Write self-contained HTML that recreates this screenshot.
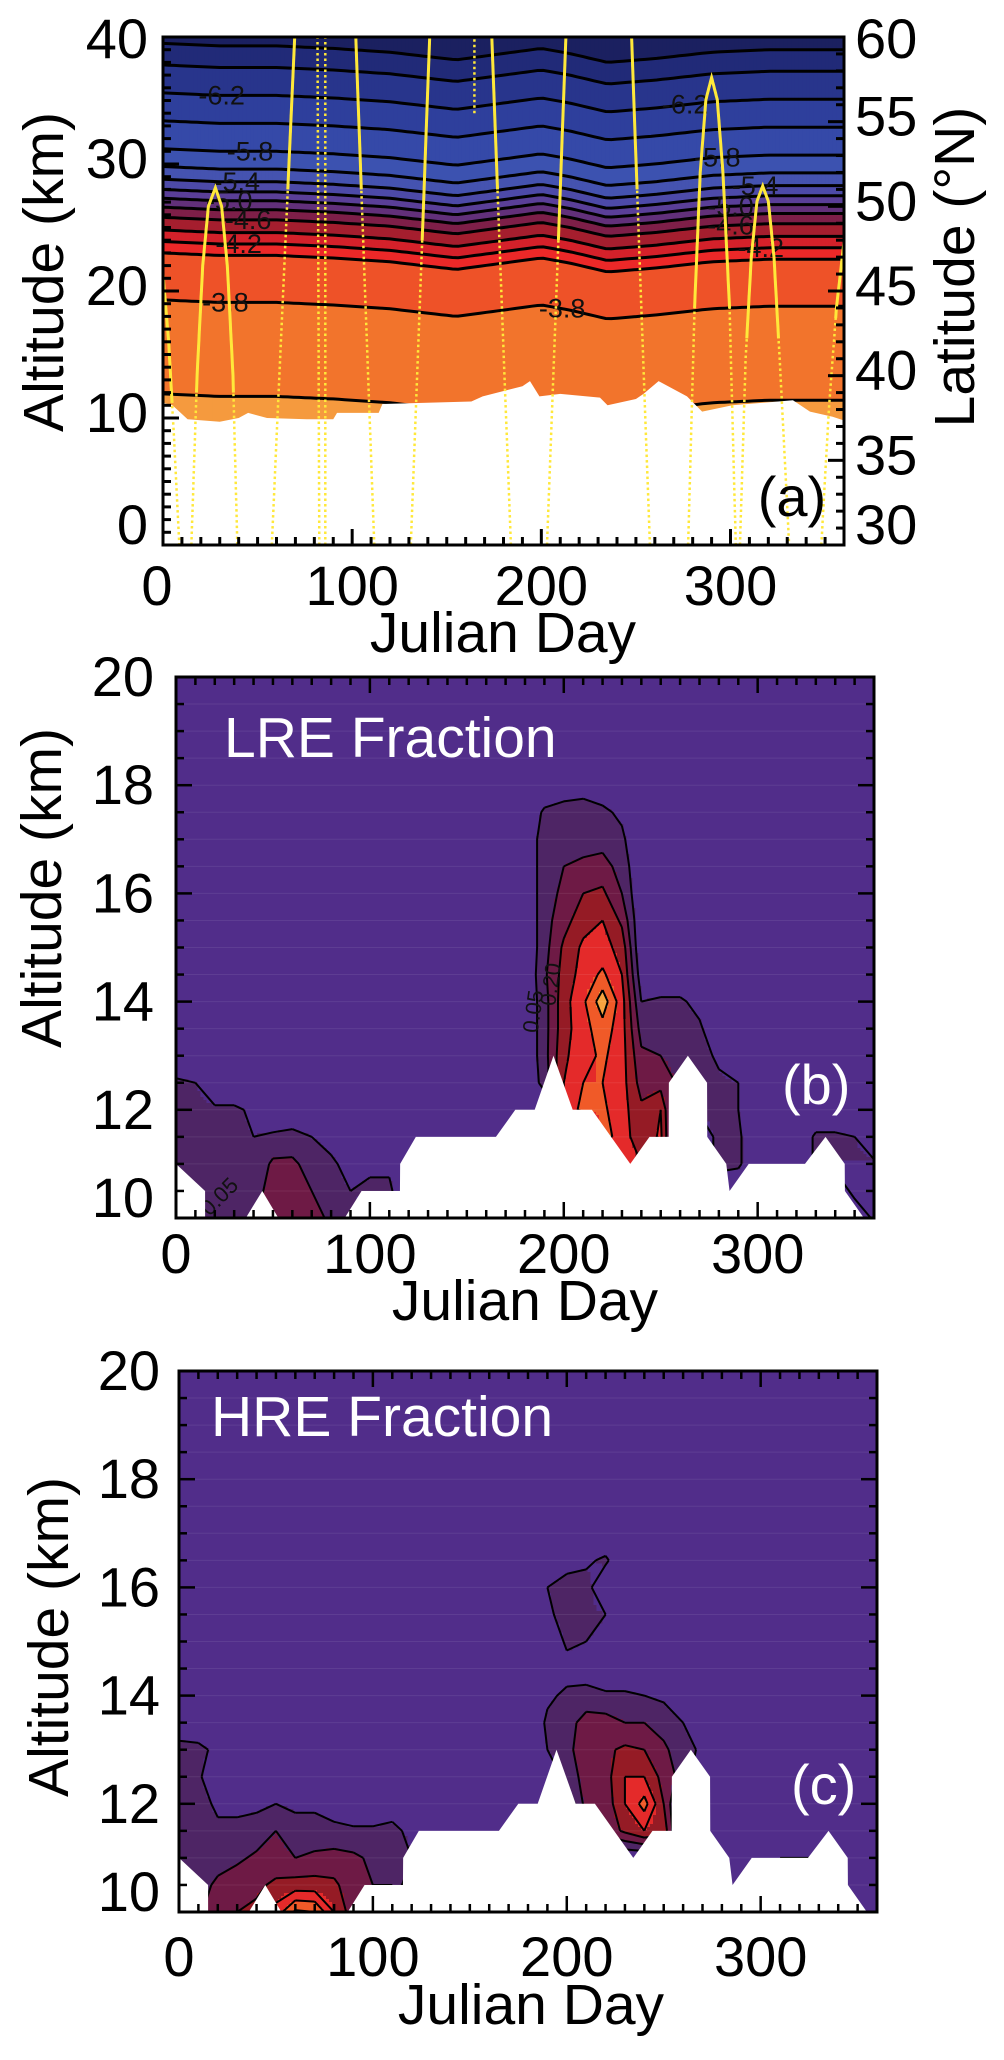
<!DOCTYPE html>
<html><head><meta charset="utf-8">
<style>
body{margin:0;background:#fff;width:1004px;height:2055px;overflow:hidden}
svg text{font-family:"Liberation Sans",Arial,sans-serif}
</style></head>
<body>
<svg id="fig" xmlns="http://www.w3.org/2000/svg" width="1004" height="2055" viewBox="0 0 1004 2055">
<defs>
<clipPath id="clipA"><rect x="163" y="37" width="681" height="508"/></clipPath>
<clipPath id="clipB"><rect x="176" y="677" width="698" height="541"/></clipPath>
<clipPath id="clipC"><rect x="179" y="1371" width="698" height="541"/></clipPath>
</defs>
<g id="panelA"></g>
<g id="panelB"></g>
<g id="panelC"></g>
</svg>
<script>
// ---------------- Panel (a) data ----------------
const aLevels=[-6.6,-6.4,-6.2,-6.0,-5.8,-5.6,-5.4,-5.2,-5.0,-4.8,-4.6,-4.4,-4.2,-4.0,-3.8,-3.6];
const aBandColors=['#1b2060','#212a78','#28358c','#2e3f9c','#3549a8','#3c52b0','#4553b0','#4d4aa8','#5a3f98','#62307a','#7e1f48','#a51e2e','#d4212a','#ec2828','#ee5228','#f2742c','#f59a3e'];
const profAlt=[0,10.5,11.7,15,19.1,21.5,22.8,23.7,24.6,25.6,26.4,27.1,27.8,28.6,29.6,31.0,33.2,35.4,37.6,39.3,42];
const profVal=[-3.45,-3.55,-3.6,-3.7,-3.8,-3.9,-4.0,-4.2,-4.4,-4.6,-4.8,-5.0,-5.2,-5.4,-5.6,-5.8,-6.0,-6.2,-6.4,-6.6,-6.9];
const liftDay=[0,30,60,90,120,155,165,200,215,235,260,290,320,360];
const liftKm=[0.2,0,0,-0.2,-0.5,-1.1,-0.9,-0.2,-0.6,-1.3,-1.0,-0.5,-0.3,-0.3];
const aFloorDay=[0,5,13,30,40,45,55,76,90,92,114,116,163,169,190,194,199,210,231,235,250,254,262,277,285,301,333,342,354,360];
const aFloorAlt=[11.2,11.0,9.9,9.7,10.0,10.4,10.0,9.9,9.9,10.4,10.4,11.1,11.3,11.7,12.5,12.9,11.7,11.9,11.6,11.0,11.5,11.9,12.9,11.7,10.5,11.0,11.4,10.5,10.1,9.8];
const aLabelLevels=[-6.2,-5.8,-5.4,-5.0,-4.6,-4.2,-3.8,-6.2,-5.8,-5.4,-5.0,-4.6,-4.2,-3.8];
const aLabelDays=[31,46,39,35,45,40,33,276,293,313,300,300,316,211];
const trackDays=[[0,3,6,8.6],[15,18,21,24,27.7,31,34,37,39.3],[57.5,69.6],[82.6,81.7],[85.8,85.8],[111.7,101.9],[131,141],[164.6,164.6],[183.9,173.8],[203,213],[257.4,247.7],[277.6,281,284,287,290,293,296,299.5,302.8],[305,308,311,314,317,320,323,326,331],[348,352,356,360]];
const trackLats=[[46,42,36,30],[30,40,46.5,50,51.1,50,46.5,40,30],[30,60],[30,60],[30,60],[30,60],[30,60],[55.5,60],[30,60],[30,60],[30,60],[30,44,52,56.3,57.6,56.3,52,44,30],[30,41,47,50.3,51.2,50.3,47,41,30],[30,38,44,47.9]];
const trackSolidAbove=[38,39,50,99,99,50,46,99,49,46,49,44,42,43];
const aAltTicks=[0,10,20,30,40];
const aLatTicks=[30,35,40,45,50,55,60];
const dayTicks=[0,100,200,300];

// ---------------- Panels (b),(c) data ----------------
const bcLevels=[0.05,0.10,0.15,0.20,0.25,0.30];
const bcColors=['#512d8a','#4e2565','#6e1a45','#951b25','#e42a2a','#f05a28','#f7a33f'];
const bcFloorDay=[0,15,15.01,36,44.5,52.8,87,95.7,115.5,115.6,123.7,165,175,185,194.7,204.6,214.5,234.3,244.2,254.1,254.2,264,273.9,274,283.8,285.5,295.4,324.4,335,344.9,345,354.8,360];
const bcFloorAlt=[11.0,10.5,10.0,10.0,10.5,10.0,10.0,10.5,10.5,11.0,11.5,11.5,12.0,12.0,13.0,12.0,12.0,11.0,11.5,11.5,12.5,13.0,12.5,11.5,11.0,10.5,11.0,11.0,11.5,11.0,10.5,10.0,9.9];
const bcAltTicks=[10,12,14,16,18,20];
// [day, altitude km, fraction]
const lreCells=[
[0,10,0.06],[0,10.5,0.07],[0,11,0.07],[0,11.5,0.07],[0,12,0.07],[0,12.5,0.06],
[10,10,0.07],[10,10.5,0.07],[10,11,0.07],[10,11.5,0.07],[10,12,0.07],[10,12.5,0.05],
[20,10,0.08],[20,10.5,0.07],[20,11,0.07],[20,11.5,0.06],[20,12,0.06],
[30,10,0.1],[30,10.5,0.08],[30,11,0.06],[30,11.5,0.06],[30,12,0.06],
[40,10,0.1],[40,10.5,0.08],[40,11,0.06],[40,11.5,0.05],[40,12,0.04],
[50,10,0.13],[50,10.5,0.12],[50,11,0.11],[50,11.5,0.06],
[60,10,0.14],[60,10.5,0.13],[60,11,0.11],[60,11.5,0.07],
[70,10,0.12],[70,10.5,0.1],[70,11,0.08],[70,11.5,0.05],
[80,10,0.09],[80,10.5,0.07],[80,11,0.06],[80,11.5,0.03],
[90,10,0.06],[90,10.5,0.05],[90,11,0.03],
[100,10.5,0.06],[100,11,0.04],[110,10.5,0.06],[110,11,0.04],
[190,12.5,0.07],[190,13,0.08],[190,13.5,0.08],[190,14,0.08],[190,14.5,0.09],[190,15,0.08],[190,15.5,0.08],[190,16,0.08],[190,16.5,0.08],[190,17,0.08],[190,17.5,0.06],
[200,12,0.2],[200,12.5,0.2],[200,13,0.19],[200,13.5,0.18],[200,14,0.18],[200,14.5,0.17],[200,15,0.16],[200,15.5,0.13],[200,16,0.11],[200,16.5,0.1],[200,17,0.08],[200,17.5,0.07],[200,18,0.02],
[210,12,0.27],[210,12.5,0.25],[210,13,0.23],[210,13.5,0.23],[210,14,0.24],[210,14.5,0.22],[210,15,0.21],[210,15.5,0.18],[210,16,0.15],[210,16.5,0.11],[210,17,0.08],[210,17.5,0.07],[210,18,0.03],
[220,11.5,0.27],[220,12,0.26],[220,12.5,0.25],[220,13,0.26],[220,13.5,0.28],[220,14,0.33],[220,14.5,0.26],[220,15,0.22],[220,15.5,0.2],[220,16,0.16],[220,16.5,0.12],[220,17,0.08],[220,17.5,0.06],[220,18,0.02],
[230,11,0.24],[230,11.5,0.23],[230,12,0.22],[230,12.5,0.22],[230,13,0.22],[230,13.5,0.22],[230,14,0.22],[230,14.5,0.2],[230,15,0.18],[230,15.5,0.14],[230,16,0.1],[230,16.5,0.08],[230,17,0.06],[230,17.5,0.04],
[240,11,0.2],[240,11.5,0.16],[240,12,0.16],[240,12.5,0.13],[240,13,0.11],[240,13.5,0.08],[240,14,0.05],[240,14.5,0.02],
[250,11.5,0.21],[250,12,0.2],[250,12.5,0.13],[250,13,0.1],[250,13.5,0.08],[250,14,0.06],
[260,12.5,0.09],[260,13,0.08],[260,13.5,0.07],[260,14,0.06],
[270,12,0.06],[270,12.5,0.07],[270,13,0.07],[270,13.5,0.06],[270,14,0.03],
[280,11,0.07],[280,11.5,0.07],[280,12,0.07],[280,12.5,0.06],[280,13,0.04],
[290,11,0.06],[290,11.5,0.06],[290,12,0.05],[290,12.5,0.05],
[330,11,0.06],[330,11.5,0.06],[340,11,0.07],[340,11.5,0.06],
[350,10.5,0.07],[350,11,0.07],[350,11.5,0.05],[360,10,0.06],[360,10.5,0.07],[360,11,0.06]
];
const hreCells=[
[0,11,0.07],[0,11.5,0.07],[0,12,0.05],[0,12.5,0.06],[0,13,0.06],[0,13.5,0.03],
[10,10,0.09],[10,10.5,0.08],[10,11,0.07],[10,11.5,0.06],[10,12,0.07],[10,12.5,0.06],[10,13,0.06],[10,13.5,0.02],
[20,10,0.14],[20,10.5,0.11],[20,11,0.08],[20,11.5,0.06],[20,12,0.04],[20,13,0.04],
[30,10,0.15],[30,10.5,0.13],[30,11,0.09],[30,11.5,0.06],[30,12,0.04],
[40,10,0.16],[40,10.5,0.14],[40,11,0.11],[40,11.5,0.07],[40,12,0.04],
[50,10,0.22],[50,10.5,0.16],[50,11,0.12],[50,11.5,0.1],[50,12,0.05],
[60,10,0.31],[60,10.5,0.17],[60,11,0.1],[60,11.5,0.07],[60,12,0.04],
[70,10,0.3],[70,10.5,0.17],[70,11,0.11],[70,11.5,0.07],[70,12,0.04],
[80,10,0.2],[80,10.5,0.16],[80,11,0.12],[80,11.5,0.06],[80,12,0.03],
[90,10,0.12],[90,10.5,0.12],[90,11,0.11],[90,11.5,0.06],
[100,10.5,0.1],[100,11,0.09],[100,11.5,0.06],
[110,10.5,0.1],[110,11,0.09],[110,11.5,0.06],[110,12,0.03],
[120,11,0.05],[120,11.5,0.04],
[190,15.5,0.04],[190,16,0.05],
[200,15,0.06],[200,15.5,0.07],[200,16,0.07],[200,16.5,0.03],
[210,15,0.05],[210,15.5,0.06],[210,16,0.07],[210,16.5,0.04],
[220,15,0.04],[220,15.5,0.05],[220,16.5,0.06],[230,15,0.05],
[190,13,0.05],[190,13.5,0.06],[190,14,0.04],
[200,12.5,0.07],[200,13,0.09],[200,13.5,0.08],[200,14,0.06],[200,14.5,0.03],
[210,12,0.12],[210,12.5,0.12],[210,13,0.12],[210,13.5,0.12],[210,14,0.07],[210,14.5,0.02],
[220,11.5,0.12],[220,12,0.12],[220,12.5,0.13],[220,13,0.14],[220,13.5,0.12],[220,14,0.06],
[230,11.5,0.16],[230,12,0.2],[230,12.5,0.2],[230,13,0.16],[230,13.5,0.1],[230,14,0.06],
[240,11.5,0.2],[240,12,0.27],[240,12.5,0.2],[240,13,0.15],[240,13.5,0.1],[240,14,0.05],
[250,11.5,0.18],[250,12,0.15],[250,12.5,0.13],[250,13,0.11],[250,13.5,0.08],[250,14,0.04],
[260,12.5,0.08],[260,13,0.07],[260,13.5,0.05],[270,13,0.04],
[310,11,0.05],[320,11,0.05],[330,11,0.05],[340,11,0.04],[350,10.5,0.05]
];

// ---------------- helpers ----------------
const NS='http://www.w3.org/2000/svg';
function mk(tag,attrs,parent){const e=document.createElementNS(NS,tag);for(const k in attrs)e.setAttribute(k,attrs[k]);parent.appendChild(e);return e;}
function interp(xs,ys,x){if(x<=xs[0])return ys[0];for(let i=1;i<xs.length;i++){if(x<=xs[i]){const t=(x-xs[i-1])/(xs[i]-xs[i-1]||1);return ys[i-1]+t*(ys[i]-ys[i-1]);}}return ys[ys.length-1];}
function txt(parent,x,y,s,size,anchor,fill,name,rot){
  const t=mk('text',{x:x,y:y,'font-size':size,'text-anchor':anchor,fill:fill},parent);
  if(rot)t.setAttribute('transform','rotate('+rot+' '+x+' '+y+')');
  t.textContent=s;
  
  
  return t;
}

// ================= PANEL A =================
(function(){
const g=document.getElementById('panelA');
const X0=163,X1=844,YT=37,YB=545;
const xA=d=>X0+d*(X1-X0)/360;
const yA=a=>YB-a*(YB-YT)/40;
const yLat=l=>yA((l-30)*40/30);
const revVal=profVal.slice().reverse(), revAlt=profAlt.slice().reverse();
const altAt=(L,d)=>interp(revVal,revAlt,L)+interp(liftDay,liftKm,d);
const plot=mk('g',{'clip-path':'url(#clipA)'},g);


for(let d0=0;d0<360;d0+=2){
  const dc=d0+1;
  const bounds=[41];
  aLevels.forEach(L=>bounds.push(altAt(L,dc)));
  bounds.push(-1);
  for(let k=0;k<bounds.length-1;k++){
    const top=Math.min(bounds[k],41), bot=Math.max(bounds[k+1],-1);
    if(top<=bot)continue;
    const r=mk('rect',{x:xA(d0),y:yA(top),width:xA(d0+2)-xA(d0)+0.6,height:yA(bot)-yA(top)+0.4,fill:aBandColors[k]},plot);
    
    
  }
}
aLevels.forEach(L=>{
  const pts=[];
  for(let d=0;d<=360;d+=3)pts.push(xA(d).toFixed(1)+','+yA(altAt(L,d)).toFixed(1));
  const p=mk('polyline',{points:pts.join(' '),fill:'none',stroke:'#000','stroke-width':3},plot);
  
  
});
aLabelLevels.forEach((L,i)=>{
  const d=aLabelDays[i];
  txt(plot,xA(d),yA(altAt(L,d))+9,L.toFixed(1),27,'middle','#111','contour-label');
});
const fp=[xA(0)+','+yA(-1)];
aFloorDay.forEach((d,i)=>fp.push(xA(d)+','+yA(aFloorAlt[i])));
fp.push(xA(360)+','+yA(-1));
const floor=mk('polygon',{points:fp.join(' '),fill:'#fff'},plot);


trackDays.forEach((days,ti)=>{
  const lats=trackLats[ti];
  const dense=[];
  for(let i=0;i<days.length-1;i++)for(let s=0;s<10;s++){const t=s/10;dense.push([days[i]+t*(days[i+1]-days[i]),lats[i]+t*(lats[i+1]-lats[i])]);}
  dense.push([days[days.length-1],lats[lats.length-1]]);
  const all=dense.map(p=>xA(p[0]).toFixed(1)+','+yLat(p[1]).toFixed(1)).join(' ');
  const dl=mk('polyline',{points:all,fill:'none',stroke:'#ffe83a','stroke-width':2.5,'stroke-dasharray':'2.5,3'},plot);
  
  
  let seg=[];
  const flush=()=>{if(seg.length>1){const sl=mk('polyline',{points:seg.join(' '),fill:'none',stroke:'#ffe83a','stroke-width':3},plot);
    
    }seg=[];};
  dense.forEach(p=>{if(p[1]>=trackSolidAbove[ti])seg.push(xA(p[0]).toFixed(1)+','+yLat(p[1]).toFixed(1));else flush();});
  flush();
});
const fr=mk('rect',{x:X0,y:YT,width:X1-X0,height:YB-YT,fill:'none',stroke:'#000','stroke-width':3},g);


const tk=mk('g',{stroke:'#000','stroke-width':3},g);


for(let a=0;a<=40;a++){const L=a%10===0?16:8;const t=mk('line',{x1:X0,y1:yA(a),x2:X0+L,y2:yA(a)},tk);}
for(let l=30;l<=60;l++){const L=l%5===0?16:8;const t=mk('line',{x1:X1,y1:yLat(l),x2:X1-L,y2:yLat(l)},tk);}
for(let d=0;d<=360;d+=10){const L=d%100===0?16:8;const t=mk('line',{x1:xA(d),y1:YB,x2:xA(d),y2:YB-L},tk);}
aAltTicks.forEach(a=>{let b=yA(a)+14;b=Math.min(Math.max(b,58),544);txt(g,148,b,String(a),56,'end','#000','altitude-tick-label');});
aLatTicks.forEach(l=>{let b=yLat(l)+14;b=Math.min(Math.max(b,58),544);txt(g,855,b,String(l),56,'start','#000','latitude-tick-label');});
dayTicks.forEach(d=>txt(g,xA(d)+(d===0?-6:0),605,String(d),56,'middle','#000','day-tick-label'));
txt(g,503,652,'Julian Day',57,'middle','#000','x-axis-title');
txt(g,63,272,'Altitude (km)',57,'middle','#000','y-axis-title',-90);
txt(g,974,267,'Latitude (°N)',57,'middle','#000','right-axis-title',-90);
txt(g,792,516,'(a)',56,'middle','#000','panel-label');
})();

// ================= PANELS B, C =================
function drawFraction(gid,clip,cells,X0,X1,YT,YB,title,titleX,titleY,tag,tagX,tagY,lblRight,xlblBase,xtitleX,xtitleY,ytitleX,ytitleY,labels){
const g=document.getElementById(gid);
const xD=d=>X0+d*(X1-X0)/360;
const yK=a=>YB-(a-10)*(YB-YT)/10;
const NI=37,NJ=21;
const G=[];for(let i=0;i<NI;i++){G.push(new Array(NJ).fill(0));}
cells.forEach(c=>{const i=Math.round(c[0]/10),j=Math.round((c[1]-10)/0.5);if(i>=0&&i<NI&&j>=0&&j<NJ)G[i][j]=c[2];});
function val(d,a){let fi=d/10,fj=(a-10)/0.5;fi=Math.max(0,Math.min(NI-1.0001,fi));fj=Math.max(0,Math.min(NJ-1.0001,fj));
  const i=Math.floor(fi),j=Math.floor(fj),u=fi-i,v=fj-j;
  return G[i][j]*(1-u)*(1-v)+G[i+1][j]*u*(1-v)+G[i][j+1]*(1-u)*v+G[i+1][j+1]*u*v;}
const band=v=>{let k=0;bcLevels.forEach(L=>{if(v>=L)k++;});return k;};
const plot=mk('g',{'clip-path':'url(#'+clip+')'},g);


const bg=mk('rect',{x:X0,y:YT,width:X1-X0,height:YB-YT,fill:bcColors[0]},plot);


const S=3;
for(let py=YT;py<YB;py+=S){
  const a=10+(YB-(py+S/2))*10/(YB-YT);
  let runStart=X0,runBand=-1;
  for(let px=X0;px<=X1;px+=S){
    const b=px<X1?band(val((px+S/2-X0)*360/(X1-X0),a)):-2;
    if(b!==runBand){
      if(runBand>0){const r=mk('rect',{x:runStart,y:py,width:px-runStart+0.5,height:S+0.5,fill:bcColors[runBand]},plot);
        
        }
      runStart=px;runBand=b;
    }
  }
}
for(let a=10.5;a<20;a+=0.5){const l=mk('line',{x1:X0,y1:yK(a),x2:X1,y2:yK(a),stroke:'rgba(255,255,255,0.08)','stroke-width':1},plot);}
let path='';
bcLevels.forEach(L=>{
  for(let i=0;i<NI-1;i++)for(let j=0;j<NJ-1;j++){
    const c=[[i,j],[i+1,j],[i+1,j+1],[i,j+1]];
    const v=c.map(p=>G[p[0]][p[1]]);
    const pts=[];
    for(let e=0;e<4;e++){const p1=c[e],p2=c[(e+1)%4],v1=v[e],v2=v[(e+1)%4];
      if((v1>=L)!==(v2>=L)){const t=(L-v1)/(v2-v1);const d=(p1[0]+t*(p2[0]-p1[0]))*10,a=10+(p1[1]+t*(p2[1]-p1[1]))*0.5;pts.push([xD(d),yK(a)]);}}
    if(pts.length===2)path+='M'+pts[0][0].toFixed(1)+','+pts[0][1].toFixed(1)+'L'+pts[1][0].toFixed(1)+','+pts[1][1].toFixed(1);
    else if(pts.length===4){path+='M'+pts[0][0].toFixed(1)+','+pts[0][1].toFixed(1)+'L'+pts[1][0].toFixed(1)+','+pts[1][1].toFixed(1)+'M'+pts[2][0].toFixed(1)+','+pts[2][1].toFixed(1)+'L'+pts[3][0].toFixed(1)+','+pts[3][1].toFixed(1);}
  }
});
const cl=mk('path',{d:path,fill:'none',stroke:'#000','stroke-width':2,'stroke-linejoin':'round'},plot);


labels.forEach(lb=>{txt(plot,xD(lb[0]),yK(lb[1]),lb[2],22,'middle','#111','contour-label',lb[3]);});
const fp=[xD(0)+','+(YB+5)];
bcFloorDay.forEach((d,i)=>fp.push(xD(d)+','+yK(bcFloorAlt[i])));
fp.push(xD(360)+','+(YB+5));
const fl=mk('polygon',{points:fp.join(' '),fill:'#fff'},plot);


const fr=mk('rect',{x:X0,y:YT,width:X1-X0,height:YB-YT,fill:'none',stroke:'#000','stroke-width':3},g);


const tk=mk('g',{stroke:'#000','stroke-width':2.5},g);


for(let a=10;a<=20.01;a+=0.5){const L=Math.abs(a/2-Math.round(a/2))<0.01?16:8;
  const t1=mk('line',{x1:X0,y1:yK(a),x2:X0+L,y2:yK(a)},tk);
  const t2=mk('line',{x1:X1,y1:yK(a),x2:X1-L,y2:yK(a)},tk);}
for(let d=0;d<=360;d+=10){const L=d%100===0?16:8;
  const t1=mk('line',{x1:xD(d),y1:YB,x2:xD(d),y2:YB-L},tk);
  const t2=mk('line',{x1:xD(d),y1:YT,x2:xD(d),y2:YT+L},tk);}
bcAltTicks.forEach(a=>{const b=Math.min(yK(a)+19,YB-1);txt(g,lblRight,b,String(a),56,'end','#000','altitude-tick-label');});
dayTicks.forEach(d=>txt(g,xD(d),xlblBase,String(d),56,'middle','#000','day-tick-label'));
txt(g,xtitleX,xtitleY,'Julian Day',57,'middle','#000','x-axis-title');
txt(g,ytitleX,ytitleY,'Altitude (km)',57,'middle','#000','y-axis-title',-90);
txt(g,titleX,titleY,title,57,'start','#fff','panel-title');
txt(g,tagX,tagY,tag,56,'start','#fff','panel-label');
}
drawFraction('panelB','clipB',lreCells,176,874,677,1218,'LRE Fraction',224,757,'(b)',782,1104,154,1273,525,1320,61,888,
  [[188,13.8,'0.05',-82],[197,14.3,'0.20',-82],[25,10.3,'0.05',-45]]);
drawFraction('panelC','clipC',hreCells,179,877,1371,1912,'HRE Fraction',211,1436,'(c)',791,1804,160,1976,531,2024,68,1637,[]);
</script>
</body></html>
